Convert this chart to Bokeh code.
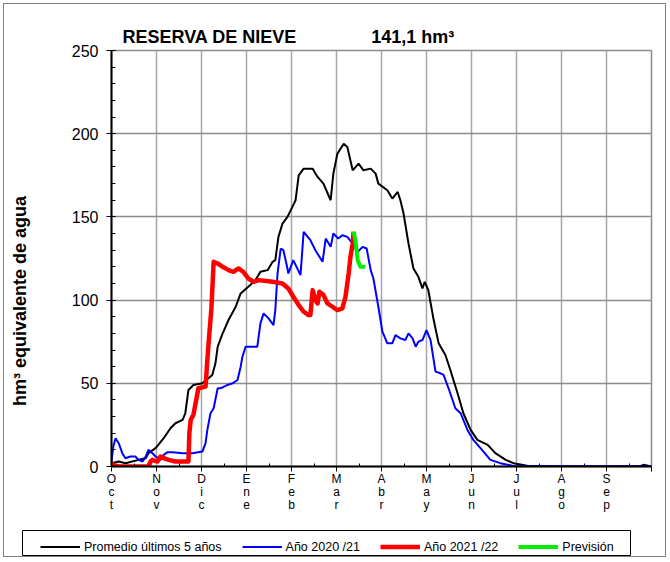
from bokeh.plotting import figure
from bokeh.layouts import column
from bokeh.models import Range1d, FixedTicker, Legend, LegendItem, Title
from bokeh.embed import file_html
from bokeh.resources import INLINE

# ---------------- data ----------------
month_names = ["Oct", "Nov", "Dic", "Ene", "Feb", "Mar", "Abr", "May", "Jun", "Jul", "Ago", "Sep"]
y_ticks = [0, 50, 100, 150, 200, 250]

# x positions are in months since 1 October
prom_x = [0.00, 0.16, 0.31, 0.60, 0.76, 0.82, 0.98, 1.04, 1.16, 1.31, 1.42, 1.58, 1.64, 1.71, 1.82,
          2.02, 2.24, 2.31, 2.36, 2.47, 2.60, 2.76, 2.87, 3.04, 3.20, 3.31, 3.47, 3.58, 3.64, 3.71,
          3.80, 3.91, 4.02, 4.09, 4.16, 4.27, 4.47, 4.58, 4.71, 4.87, 4.93, 5.02, 5.16, 5.24, 5.36,
          5.49, 5.60, 5.76, 5.87, 5.93, 6.13, 6.24, 6.36, 6.42, 6.49, 6.60, 6.71, 6.82, 6.91, 6.96,
          7.04, 7.16, 7.27, 7.42, 7.53, 7.69, 7.82, 7.98, 8.13, 8.36, 8.53, 8.76, 8.93, 9.24, 10.0,
          10.87, 11.76, 11.82, 11.93, 12.0]
prom_y = [2, 3, 2, 4, 5, 8, 11, 13, 17, 23, 26, 28, 32, 46, 49,
          50, 55, 62, 72, 80, 88, 96, 104, 108, 112, 117, 118, 123, 124, 138,
          146, 150, 156, 160, 175, 179, 179, 174, 170, 160, 176, 188, 194, 192, 178,
          182, 178, 179, 176, 170, 166, 161, 165, 160, 152, 134, 119, 114, 107, 111,
          106, 88, 74, 67, 58, 44, 32, 22, 16, 13, 8, 4, 2, 0.5, 0,
          0, 0.3, 1, 0.5, 0.3]

a2021_x = [0.00, 0.04, 0.09, 0.16, 0.24, 0.31, 0.42, 0.53, 0.60, 0.69, 0.76, 0.82, 0.91, 0.98, 1.09,
           1.16, 1.24, 1.36, 1.58, 1.80, 2.02, 2.09, 2.13, 2.20, 2.27, 2.36, 2.42, 2.58, 2.69, 2.80,
           2.87, 2.91, 2.98, 3.24, 3.31, 3.38, 3.49, 3.60, 3.64, 3.69, 3.76, 3.82, 3.91, 3.93, 4.04,
           4.20, 4.27, 4.42, 4.53, 4.69, 4.76, 4.87, 4.93, 5.04, 5.13, 5.24, 5.36, 5.47, 5.58, 5.67,
           5.76, 5.82, 5.93, 6.02, 6.13, 6.24, 6.31, 6.42, 6.53, 6.60, 6.69, 6.76, 6.82, 6.91, 7.00,
           7.09, 7.20, 7.31, 7.38, 7.49, 7.64, 7.76, 7.91, 8.04, 8.20, 8.42, 8.64, 8.93, 12.0]
a2021_y = [3, 12, 17, 14, 8, 5, 6, 6, 4, 3, 6, 10, 8, 6, 4,
           7, 8.5, 8.5, 8, 8, 9, 14, 22, 32, 35, 47, 47, 49, 50, 52,
           60, 66, 72, 72, 86, 92, 89, 85, 94, 116, 131, 130, 119, 116, 124,
           115, 141, 136, 130, 123, 137, 132, 140, 137, 139, 138, 134, 129, 132, 131,
           118, 113, 96, 81, 74, 74, 79, 77, 76, 80, 77, 72, 75, 76, 82,
           76, 57, 56, 55, 47, 35, 32, 22, 16, 11, 4, 2, 0.3, 0]

a2122_x = [0.00, 0.04, 0.16, 0.82, 0.87, 0.91, 1.02, 1.09, 1.16, 1.27, 1.42, 1.71, 1.73, 1.76, 1.82,
           1.91, 1.93, 2.09, 2.13, 2.16, 2.22, 2.27, 2.36, 2.47, 2.60, 2.71, 2.82, 2.93, 3.04, 3.16,
           3.27, 3.58, 3.80, 3.93, 4.04, 4.16, 4.27, 4.38, 4.42, 4.47, 4.53, 4.58, 4.62, 4.71, 4.80,
           4.91, 5.02, 5.13, 5.20, 5.27, 5.31, 5.36, 5.38]
a2122_y = [2, 1, 0, 0, 3, 4, 3, 6, 5, 4, 3, 3, 20, 28, 31,
           44, 47, 48, 64, 75, 95, 123, 122, 120, 118, 117, 119, 117, 113, 111,
           112, 111, 110, 107, 102, 97, 93, 91, 91, 106, 100, 98, 105, 103, 98,
           96, 94, 95, 102, 116, 126, 134, 141.1]

prev_x = [5.38, 5.42, 5.47, 5.53, 5.64]
prev_y = [141.1, 136, 124, 120, 120]

series_labels = ["Promedio últimos 5 años", "Año 2020 /21", "Año 2021 /22", "Previsión"]

# ---------------- figure ----------------
FONT = "Liberation Sans"
NB = "\u00a0"
STYLES = [dict(line_color="black", line_width=2),
          dict(line_color="#0000ff", line_width=2),
          dict(line_color="#ff0000", line_width=4.5, line_join="round"),
          dict(line_color="#00ee00", line_width=4, line_join="round")]
SERIES_X = [prom_x, a2021_x, a2122_x, prev_x]
SERIES_Y = [prom_y, a2021_y, a2122_y, prev_y]

p = figure(width=661, height=516, output_backend="svg", toolbar_location=None,
           x_range=Range1d(0, 12), y_range=Range1d(0, 250),
           min_border_left=107, min_border_right=14, min_border_top=46, min_border_bottom=54,
           background_fill_color="white", border_fill_color="white")
p.frame_align = False

p.outline_line_color = "#8c8c8c"
p.outline_line_width = 1.5

# title (one line: name + current value)
current = f"{a2122_y[-1]:.1f}".replace(".", ",") + " hm³"
p.title = Title(text="RESERVA DE NIEVE" + NB * 15 + current, align="left", offset=11,
                text_font=FONT, text_font_style="bold", text_font_size="18px",
                text_color="black", standoff=8)

# x axis
month_ticks = list(range(len(month_names) + 1))
p.xaxis.ticker = FixedTicker(ticks=month_ticks, minor_ticks=[i + 0.5 for i in range(len(month_names))])
overrides = {i: "\n".join(list(m)) for i, m in enumerate(month_names)}
overrides[len(month_names)] = ""
p.xaxis.major_label_overrides = overrides
p.xaxis.major_label_text_font = FONT
p.xaxis.major_label_text_font_size = "12px"
p.xaxis.major_label_text_line_height = 0.95
p.xaxis.major_label_text_color = "black"
p.xaxis.major_label_standoff = 0
p.xaxis.axis_line_color = "black"
p.xaxis.axis_line_width = 2
p.xaxis.major_tick_line_color = "black"
p.xaxis.major_tick_in = 0
p.xaxis.major_tick_out = 5
p.xaxis.minor_tick_line_color = "black"
p.xaxis.minor_tick_in = 3
p.xaxis.minor_tick_out = 0

# y axis
p.yaxis.ticker = FixedTicker(ticks=y_ticks, minor_ticks=list(range(0, 251, 10)))
p.yaxis.major_label_text_font = FONT
p.yaxis.major_label_text_font_size = "16px"
p.yaxis.major_label_text_color = "black"
p.yaxis.major_label_standoff = 8
p.yaxis.axis_line_color = "black"
p.yaxis.axis_line_width = 2
p.yaxis.major_tick_line_color = "black"
p.yaxis.major_tick_in = 4
p.yaxis.major_tick_out = 5
p.yaxis.minor_tick_line_color = "black"
p.yaxis.minor_tick_in = 4
p.yaxis.minor_tick_out = 0
p.yaxis.axis_label = "hm³ equivalente de agua" + NB * 17
p.yaxis.axis_label_text_font = FONT
p.yaxis.axis_label_text_font_style = "bold"
p.yaxis.axis_label_text_font_size = "18px"
p.yaxis.axis_label_text_color = "black"
p.yaxis.axis_label_standoff = 39

# grids
p.xgrid.ticker = FixedTicker(ticks=month_ticks)
p.xgrid.grid_line_color = "#a6a6a6"
p.xgrid.grid_line_width = 1.5
p.ygrid.ticker = FixedTicker(ticks=y_ticks)
p.ygrid.grid_line_color = "#8c8c8c"
p.ygrid.grid_line_width = 1.5

# lines
for xs, ys, st in zip(SERIES_X, SERIES_Y, STYLES):
    p.line(xs, ys, **st)

# legend strip: a separate figure below the chart whose frame outline is the legend box
# (its view range excludes the data, so only the legend is visible)
lp = figure(width=661, height=36, output_backend="svg", toolbar_location=None,
            x_range=Range1d(-30, -29), y_range=Range1d(-30, -29), x_axis_type=None, y_axis_type=None,
            min_border_left=18, min_border_right=35, min_border_top=10, min_border_bottom=1,
            outline_line_color="black", outline_line_width=1, background_fill_color="white",
            border_fill_color="white")
lp.frame_align = False
lp.xgrid.visible = False
lp.ygrid.visible = False
items = []
for lab, xs, ys, st in zip(series_labels, SERIES_X, SERIES_Y, STYLES):
    r = lp.line(xs, ys, **st)
    items.append(LegendItem(label=lab, renderers=[r]))

legend = Legend(items=items, orientation="horizontal", location=(18, 0))
legend.margin = 0
legend.padding = 4
legend.spacing = 20
legend.glyph_width = 40
legend.glyph_height = 17
legend.label_height = 17
legend.label_standoff = 4
legend.label_text_font = FONT
legend.label_text_font_size = "12.5px"
legend.label_text_color = "black"
legend.border_line_color = None
legend.background_fill_alpha = 0
lp.add_layout(legend)

layout = column(p, lp, spacing=0)
layout.styles = {"border": "1px solid #808080", "margin-left": "3px", "margin-top": "3px"}

open("out.html", "w").write(file_html(layout, INLINE))
